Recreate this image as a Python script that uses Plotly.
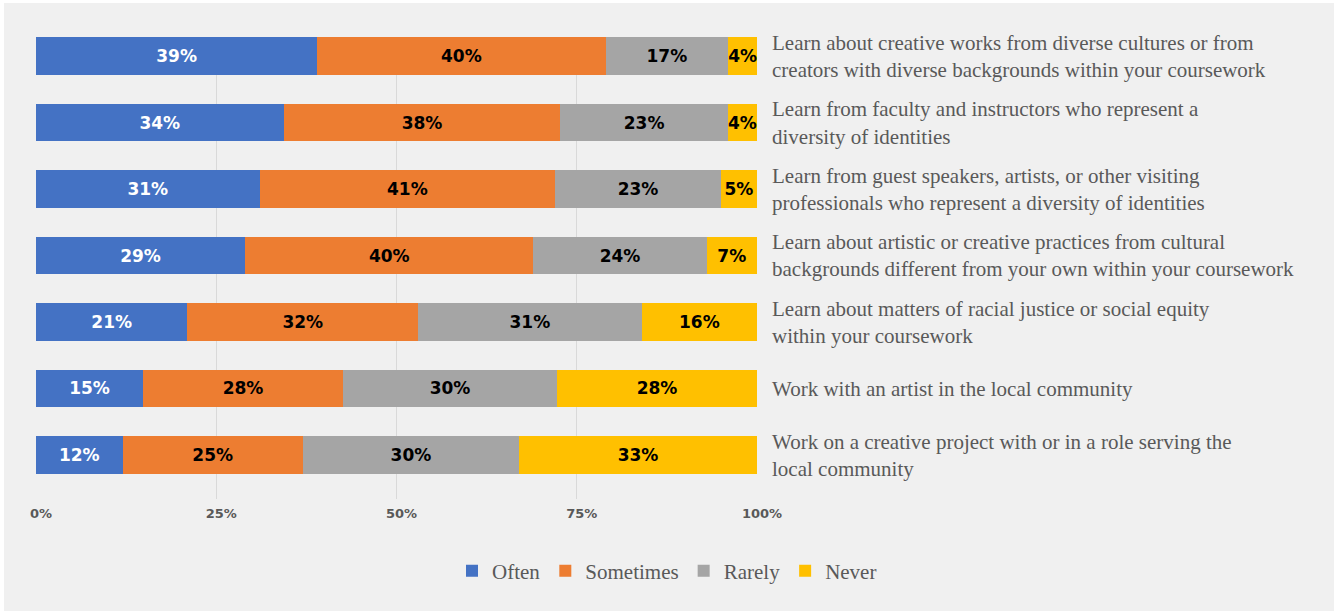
import plotly.graph_objects as go

# Survey items (top to bottom) and share of responses per frequency
categories = [
    "Learn about creative works from diverse cultures or from<br>creators with diverse backgrounds within your coursework",
    "Learn from faculty and instructors who represent a<br>diversity of identities",
    "Learn from guest speakers, artists, or other visiting<br>professionals who represent a diversity of identities",
    "Learn about artistic or creative practices from cultural<br>backgrounds different from your own within your coursework",
    "Learn about matters of racial justice or social equity<br>within your coursework",
    "Work with an artist in the local community",
    "Work on a creative project with or in a role serving the<br>local community",
]
often = [39, 34, 31, 29, 21, 15, 12]
sometimes = [40, 38, 41, 40, 32, 28, 25]
rarely = [17, 23, 23, 24, 31, 30, 30]
never = [4, 4, 5, 7, 16, 28, 33]

series_names = ["Often", "Sometimes", "Rarely", "Never"]
series_values = [often, sometimes, rarely, never]
colors = ["#4472C4", "#ED7D31", "#A5A5A5", "#FFC000"]
label_colors = ["#FFFFFF", "#000000", "#000000", "#000000"]

tick_vals = [0, 25, 50, 75, 100]
tick_text = ["0%", "25%", "50%", "75%", "100%"]

W, H = 1334, 614
L, R, T, B = 36, 757, 37, 499  # plot area edges in pixels

fig = go.Figure()
for name, vals, col, lcol in zip(series_names, series_values, colors, label_colors):
    fig.add_trace(go.Bar(
        y=categories,
        x=vals,
        name=name,
        orientation="h",
        marker=dict(color=col, line=dict(width=0)),
        text=[f"{v}%" for v in vals],
        textposition="inside",
        insidetextanchor="middle",
        textangle=0,
        textfont=dict(family="DejaVu Sans", size=17, color=lcol, weight="bold"),
        constraintext="none",
        hoverinfo="skip",
    ))

pw = R - L
ph = B - T
fig.add_shape(
    type="rect", xref="paper", yref="paper", layer="below",
    x0=(4 - L) / pw, x1=(W - L) / pw,
    y0=(B - 611) / ph, y1=(B - 3) / ph,
    fillcolor="#F0F0F0", line=dict(width=0),
)

fig.update_layout(
    width=W, height=H, autosize=False,
    barmode="stack", barnorm="percent", bargap=0.43,
    paper_bgcolor="#FFFFFF", plot_bgcolor="rgba(0,0,0,0)",
    margin=dict(l=L, r=W - R, t=T, b=H - B, autoexpand=False),
    uniformtext=dict(minsize=8, mode="show"),
    xaxis=dict(
        range=[0, 100], tickvals=tick_vals, ticktext=tick_text,
        showgrid=True, gridcolor="#D9D9D9", gridwidth=1,
        zeroline=False, showline=False, ticks="",
        tickfont=dict(family="DejaVu Sans", size=13, color="#595959", weight="bold"),
        ticklabelshift=5, ticklabelstandoff=5,
        fixedrange=True,
    ),
    yaxis=dict(
        categoryorder="array", categoryarray=categories,
        autorange=False, range=[6.662, -0.286],
        side="right", ticks="", showgrid=False, zeroline=False, showline=False,
        tickfont=dict(family="Liberation Serif", size=21, color="#595959"),
        ticklabelstandoff=14,
        fixedrange=True,
    ),
    legend=dict(
        orientation="h", xref="container", yref="container",
        x=0.5, xanchor="center", y=(H - 571) / H, yanchor="middle",
        font=dict(family="Liberation Serif", size=21, color="#595959"),
        bgcolor="rgba(0,0,0,0)", traceorder="normal",
        itemclick=False, itemdoubleclick=False,
    ),
    showlegend=True,
)

fig.write_html("out.html")
